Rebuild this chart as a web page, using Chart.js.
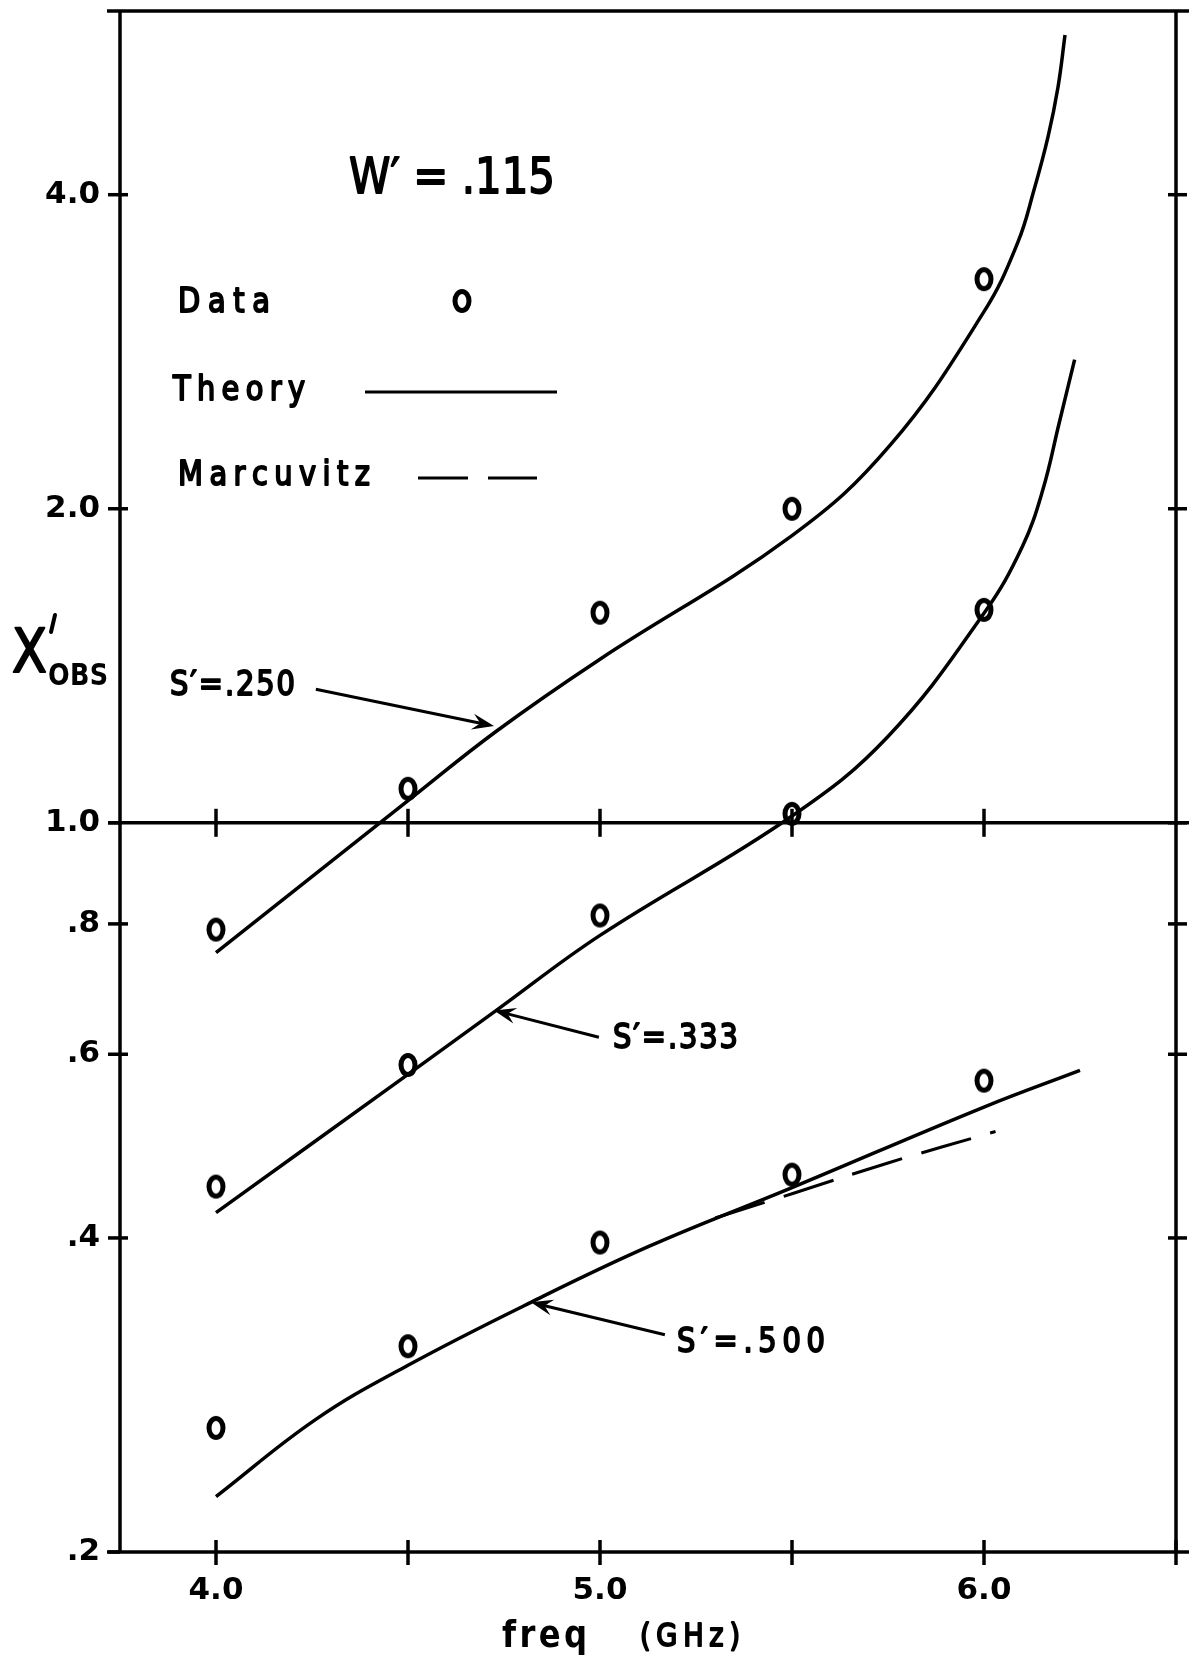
<!DOCTYPE html>
<html>
<head>
<meta charset="utf-8">
<script src="https://cdn.jsdelivr.net/npm/chart.js@4.4.0/dist/chart.umd.min.js"></script>
<style>
  html, body { margin: 0; padding: 0; background: #fff; }
  canvas { display: block; }
</style>
</head>
<body>
<canvas id="chart" width="1189" height="1658"></canvas>
<script>
// measured points (freq in GHz, X'obs)
const freqs = [4.0, 4.5, 5.0, 5.5, 6.0];
const data250 = [0.79, 1.078, 1.59, 2.0, 3.32];
const data333 = [0.448, 0.586, 0.815, 1.02, 1.60];
const data500 = [0.263, 0.315, 0.396, 0.460, 0.566];

// theory curves
const theory250F = [4.0, 4.25, 4.5, 4.73, 5.0, 5.5, 5.755, 6.0, 6.088, 6.13, 6.167, 6.193, 6.211];
const theory250X = [0.751, 0.888, 1.05, 1.224, 1.435, 1.885, 2.30, 3.09, 3.60, 4.04, 4.55, 5.08, 5.69];
const theory333F = [4.0, 4.5, 4.73, 5.0, 5.5, 5.75, 6.0, 6.1, 6.154, 6.195, 6.236];
const theory333X = [0.423, 0.574, 0.661, 0.780, 1.015, 1.21, 1.588, 1.84, 2.09, 2.41, 2.78];
const theory500F = [4.0, 4.26, 4.5, 4.82, 5.13, 5.5, 6.0, 6.25];
const theory500X = [0.226, 0.268, 0.302, 0.347, 0.393, 0.447, 0.534, 0.579];

// Marcuvitz approximation, S' = .500
const marcF = [5.3, 5.5, 5.75, 6.03];
const marcX = [0.418, 0.441, 0.472, 0.506];

const xTickValues = [4.0, 5.0, 6.0];
const xMinorTicks = [4.0, 4.5, 5.0, 5.5, 6.0, 6.5];
const yTickValues = [0.2, 0.4, 0.6, 0.8, 1.0, 2.0, 4.0];

const FONT = '"DejaVu Sans", sans-serif';

function pairs(xs, ys) {
  return xs.map((x, i) => ({ x: x, y: ys[i] }));
}

function makeMarker() {
  const c = document.createElement("canvas");
  c.width = 28;
  c.height = 34;
  const g = c.getContext("2d");
  g.lineWidth = 5;
  g.strokeStyle = "#000";
  g.beginPath();
  g.ellipse(14, 17, 7, 9.5, 0, 0, 2 * Math.PI);
  g.stroke();
  return c;
}
const marker = makeMarker();

// draw a string spread between x0 and x1, lettering style
function spacedText(ctx, str, x0, x1, baseline, size, weight, thicken) {
  ctx.font = (weight || "normal") + " " + size + "px " + FONT;
  ctx.textBaseline = "alphabetic";
  ctx.textAlign = "left";
  const chars = [...str];
  const widths = chars.map((c) => ctx.measureText(c).width);
  const total = widths.reduce((a, b) => a + b, 0);
  const target = x1 - x0;
  let sx = 0.85;
  let gap = chars.length > 1 ? (target - total * sx) / (chars.length - 1) : 0;
  if (gap < 0) {
    sx = target / total;
    gap = 0;
  }
  let x = x0;
  chars.forEach((c, i) => {
    ctx.save();
    ctx.translate(x, baseline);
    ctx.scale(sx, 1);
    ctx.fillText(c, 0, 0);
    if (thicken) {
      ctx.lineWidth = thicken;
      ctx.lineJoin = "round";
      ctx.strokeText(c, 0, 0);
    }
    ctx.restore();
    x += widths[i] * sx + gap;
  });
}

function seg(ctx, x0, y0, x1, y1) {
  ctx.beginPath();
  ctx.moveTo(x0, y0);
  ctx.lineTo(x1, y1);
  ctx.stroke();
}

const framePlugin = {
  id: "frame",
  beforeDatasetsDraw(chart) {
    const { ctx, chartArea: a, scales } = chart;
    const x = scales.x, y = scales.y;
    ctx.save();
    ctx.strokeStyle = "#000";
    ctx.lineWidth = 3.5;
    ctx.lineCap = "butt";
    // box
    seg(ctx, a.left - 13, a.top, chart.width, a.top);
    seg(ctx, a.left - 13, a.bottom, chart.width, a.bottom);
    seg(ctx, a.left, a.top, a.left, a.bottom);
    seg(ctx, a.right, a.top, a.right, a.bottom);
    // reference line at 1.0
    const y1 = y.getPixelForValue(1.0);
    seg(ctx, a.left - 12, y1, chart.width, y1);
    // y ticks
    yTickValues.forEach((v) => {
      const py = y.getPixelForValue(v);
      seg(ctx, a.left - 12, py, a.left + (v === 1 || v === 0.2 ? 0 : 8), py);
      if (v !== 0.2) seg(ctx, a.right - 8, py, a.right + 11, py);
    });
    // x ticks on bottom axis and on the 1.0 line
    xMinorTicks.forEach((v) => {
      const px = x.getPixelForValue(v);
      seg(ctx, px, a.bottom - 12, px, a.bottom + 13);
      if (v < 6.5) seg(ctx, px, y1 - 14, px, y1 + 14);
    });
    ctx.restore();
  },
};

const labelPlugin = {
  id: "labels",
  afterDraw(chart) {
    const { ctx, scales } = chart;
    const x = scales.x, y = scales.y;
    ctx.save();
    ctx.fillStyle = "#000";
    ctx.strokeStyle = "#000";

    spacedText(ctx, "W\u2032 = .115", 349, 555, 193, 50, "normal", 1.8);

    // legend
    spacedText(ctx, "Data", 178, 270, 312, 34, "normal", 2);
    ctx.drawImage(marker, 462 - marker.width / 2, 301 - marker.height / 2);
    spacedText(ctx, "Theory", 173, 305, 400, 34, "normal", 2);
    ctx.lineWidth = 3;
    seg(ctx, 365, 392, 557, 392);
    spacedText(ctx, "Marcuvitz", 178, 370, 485, 34, "normal", 2);
    seg(ctx, 418, 478, 468, 478);
    seg(ctx, 488, 478, 537, 478);

    // curve labels
    spacedText(ctx, "S\u2032=.250", 170, 295, 695, 34, "normal", 2);
    spacedText(ctx, "S\u2032=.333", 613, 738, 1048, 34, "normal", 2);
    spacedText(ctx, "S\u2032=.500", 677, 825, 1352, 34, "normal", 2);

    const arrows = [
      { from: [4.26, 1.343], to: [4.724, 1.238] },
      { from: [4.997, 0.623], to: [4.724, 0.661] },
      { from: [5.169, 0.323], to: [4.82, 0.347] },
    ];
    ctx.lineWidth = 3;
    arrows.forEach((ar) => {
      const x0 = x.getPixelForValue(ar.from[0]), y0 = y.getPixelForValue(ar.from[1]);
      const x1 = x.getPixelForValue(ar.to[0]), y1 = y.getPixelForValue(ar.to[1]);
      const ang = Math.atan2(y1 - y0, x1 - x0);
      seg(ctx, x0, y0, x1 - 10 * Math.cos(ang), y1 - 10 * Math.sin(ang));
      const len = 22, w = 8;
      const bx = x1 - len * Math.cos(ang), by = y1 - len * Math.sin(ang);
      ctx.beginPath();
      ctx.moveTo(x1, y1);
      ctx.lineTo(bx + w * Math.sin(ang), by - w * Math.cos(ang));
      ctx.lineTo(x1 - 14 * Math.cos(ang), y1 - 14 * Math.sin(ang));
      ctx.lineTo(bx - w * Math.sin(ang), by + w * Math.cos(ang));
      ctx.closePath();
      ctx.fill();
    });

    // axis titles
    spacedText(ctx, "X", 12, 46, 672, 60, "normal", 2);
    ctx.lineWidth = 4;
    ctx.lineCap = "round";
    seg(ctx, 55, 615, 51, 632);
    spacedText(ctx, "OBS", 48, 108, 685, 30, "bold");
    spacedText(ctx, "freq", 502, 587, 1647, 38, "bold");
    spacedText(ctx, "(GHz)", 640, 740, 1646, 32, "normal", 2);
    ctx.restore();
  },
};

const lineStyle = {
  showLine: true,
  borderColor: "#000",
  borderWidth: 3.5,
  pointRadius: 0,
  tension: 0.4,
  fill: false,
};
const pointStyle = {
  showLine: false,
  pointStyle: marker,
  pointRadius: 10,
  borderColor: "#000",
  backgroundColor: "#000",
};

const ctx = document.getElementById("chart").getContext("2d");
const chart = new Chart(ctx, {
  type: "scatter",
  data: {
    datasets: [
      Object.assign({ label: "Theory S'=.250", data: pairs(theory250F, theory250X) }, lineStyle),
      Object.assign({ label: "Theory S'=.333", data: pairs(theory333F, theory333X) }, lineStyle),
      Object.assign({ label: "Theory S'=.500", data: pairs(theory500F, theory500X) }, lineStyle),
      Object.assign({ label: "Marcuvitz", data: pairs(marcF, marcX) }, lineStyle, { borderWidth: 3, borderDash: [52, 20] }),
      Object.assign({ label: "Data S'=.250", data: pairs(freqs, data250) }, pointStyle),
      Object.assign({ label: "Data S'=.333", data: pairs(freqs, data333) }, pointStyle),
      Object.assign({ label: "Data S'=.500", data: pairs(freqs, data500) }, pointStyle),
    ],
  },
  options: {
    responsive: false,
    animation: false,
    layout: { padding: { top: 10, right: 13, left: 0, bottom: 0 } },
    plugins: {
      legend: { display: false },
      tooltip: { enabled: false },
    },
    scales: {
      x: {
        type: "linear",
        min: 3.75,
        max: 6.5,
        afterFit: function (s) {
          s.height = 106;
          s.paddingLeft = 0;
          s.paddingRight = 0;
        },
        afterBuildTicks: function (s) {
          s.ticks = xTickValues.map((v) => ({ value: v }));
        },
        grid: { display: false, drawTicks: false },
        border: { display: false },
        ticks: {
          padding: 20,
          color: "#000",
          autoSkip: false,
          maxRotation: 0,
          font: { family: FONT, size: 31, weight: "bold" },
          callback: (v) => Number(v).toFixed(1),
        },
      },
      y: {
        type: "logarithmic",
        min: 0.2,
        max: 6,
        afterFit: function (s) {
          s.width = 120;
          s.paddingTop = 0;
          s.paddingBottom = 0;
        },
        afterBuildTicks: function (s) {
          s.ticks = yTickValues.map((v) => ({ value: v }));
        },
        grid: { display: false, drawTicks: false },
        border: { display: false },
        ticks: {
          padding: 20,
          color: "#000",
          autoSkip: false,
          font: { family: FONT, size: 31, weight: "bold" },
          callback: (v) => (v >= 1 ? Number(v).toFixed(1) : "." + Math.round(v * 10)),
        },
      },
    },
  },
  plugins: [framePlugin, labelPlugin],
});
</script>
</body>
</html>
